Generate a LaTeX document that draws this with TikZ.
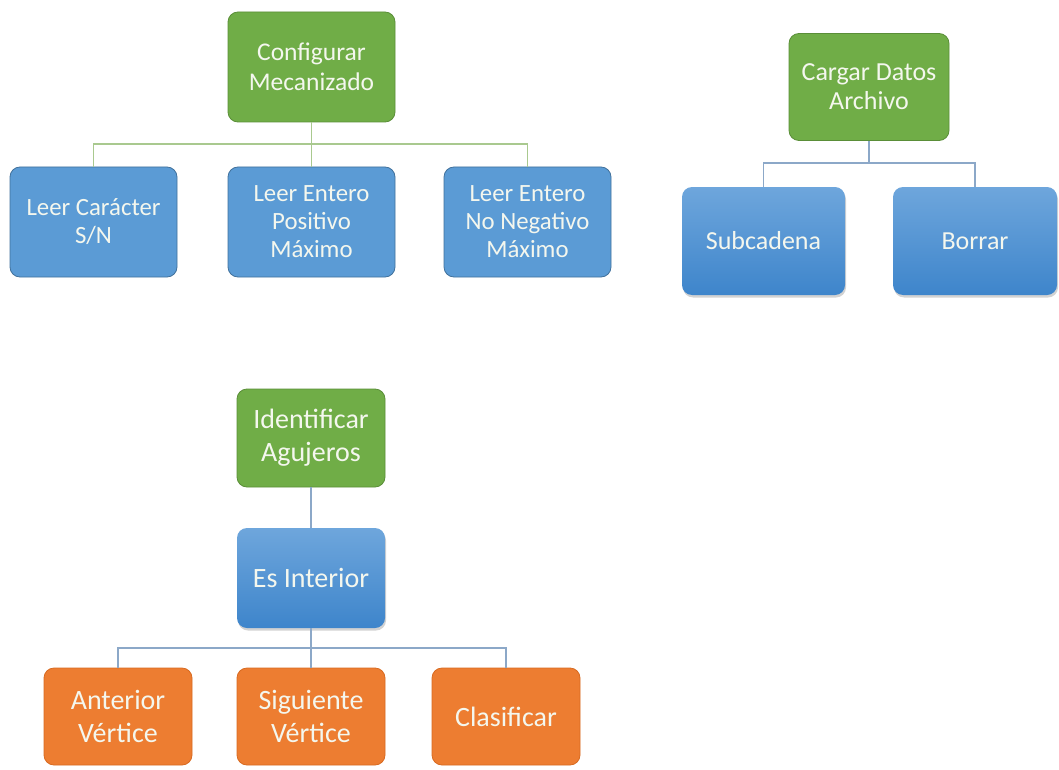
\documentclass[tikz,border=0pt]{standalone}
\usepackage{fontspec}
\setmainfont{Carlito}
\usetikzlibrary{shadows,calc}
\definecolor{grn}{HTML}{70AD47}
\definecolor{grnb}{HTML}{5A8E38}
\definecolor{blu}{HTML}{5B9BD5}
\definecolor{blub}{HTML}{41719C}
\definecolor{blut}{HTML}{6EA6DC}
\definecolor{blubot}{HTML}{3E85CB}
\definecolor{org}{HTML}{ED7D31}
\definecolor{orgb}{HTML}{D86A20}
\definecolor{lgrn}{HTML}{A9C98F}
\definecolor{lblu}{HTML}{8CA8C8}
\definecolor{txt}{HTML}{F4F7EE}
\tikzset{
  box/.style={rounded corners=10pt, inner sep=0pt, align=center, text=txt, line width=0.8pt},
  gbox/.style={box, fill=grn, draw=grnb},
  bflat/.style={box, fill=blu, draw=blub},
  bshade/.style={box, top color=blut, bottom color=blubot, draw=none,
     drop shadow={opacity=0.35, shadow xshift=1pt, shadow yshift=-2.5pt}},
  obox/.style={box, fill=org, draw=orgb},
  gcon/.style={draw=lgrn, line width=1.3pt},
  bcon/.style={draw=lblu, line width=1.3pt},
}
\begin{document}
\begin{tikzpicture}[x=1pt,y=-1pt]
\useasboundingbox[fill=white] (0,0) rectangle (1059,770);
% Tree 1
\node[gbox, minimum width=167pt, minimum height=110pt, font=\fontsize{25.5}{30}\selectfont] (conf) at (311.5,67) {Configurar\\Mecanizado};
\begin{scope}[font=\fontsize{24.8}{28}\selectfont]
\node[bflat, minimum width=167pt, minimum height=110pt] (lc) at (93.5,222) {Leer Carácter\\S/N};
\node[bflat, minimum width=167pt, minimum height=110pt] (lp) at (311.5,222) {Leer Entero\\Positivo\\Máximo};
\node[bflat, minimum width=167pt, minimum height=110pt] (ln) at (527.5,222) {Leer Entero\\No Negativo\\Máximo};
\end{scope}
\coordinate (j1) at (311.5,144);
\draw[gcon] (conf.south) -- (lp.north);
\draw[gcon] (lc.north) |- (j1) -| (ln.north);
% Tree 2
\begin{scope}[font=\fontsize{26}{29}\selectfont]
\node[gbox, minimum width=160pt, minimum height=107pt] (carg) at (869,87) {Cargar Datos\\Archivo};
\node[bshade, minimum width=163pt, minimum height=108pt] (sub) at (763.5,241) {Subcadena};
\node[bshade, minimum width=164pt, minimum height=108pt] (bor) at (975,241) {Borrar};
\end{scope}
\coordinate (j2) at (869,163);
\draw[bcon] (carg.south) -- (j2);
\draw[bcon] (sub.north) |- (j2) -| (bor.north);
% Tree 3
\begin{scope}[font=\fontsize{28}{33}\selectfont]
\node[gbox, minimum width=148pt, minimum height=98pt] (ida) at (311,438) {Identificar\\Agujeros};
\node[bshade, minimum width=148pt, minimum height=100pt] (esi) at (311,578) {Es Interior};
\node[obox, minimum width=148pt, minimum height=97pt] (ant) at (118,716.5) {Anterior\\Vértice};
\node[obox, minimum width=148pt, minimum height=97pt] (sig) at (311,716.5) {Siguiente\\Vértice};
\node[obox, minimum width=148pt, minimum height=97pt] (cla) at (506,716.5) {Clasificar};
\end{scope}
\coordinate (j3) at (311,648);
\draw[bcon] (ida.south) -- (esi.north);
\draw[bcon] (esi.south) -- (sig.north);
\draw[bcon] (ant.north) |- (j3) -| (cla.north);
\end{tikzpicture}
\end{document}
